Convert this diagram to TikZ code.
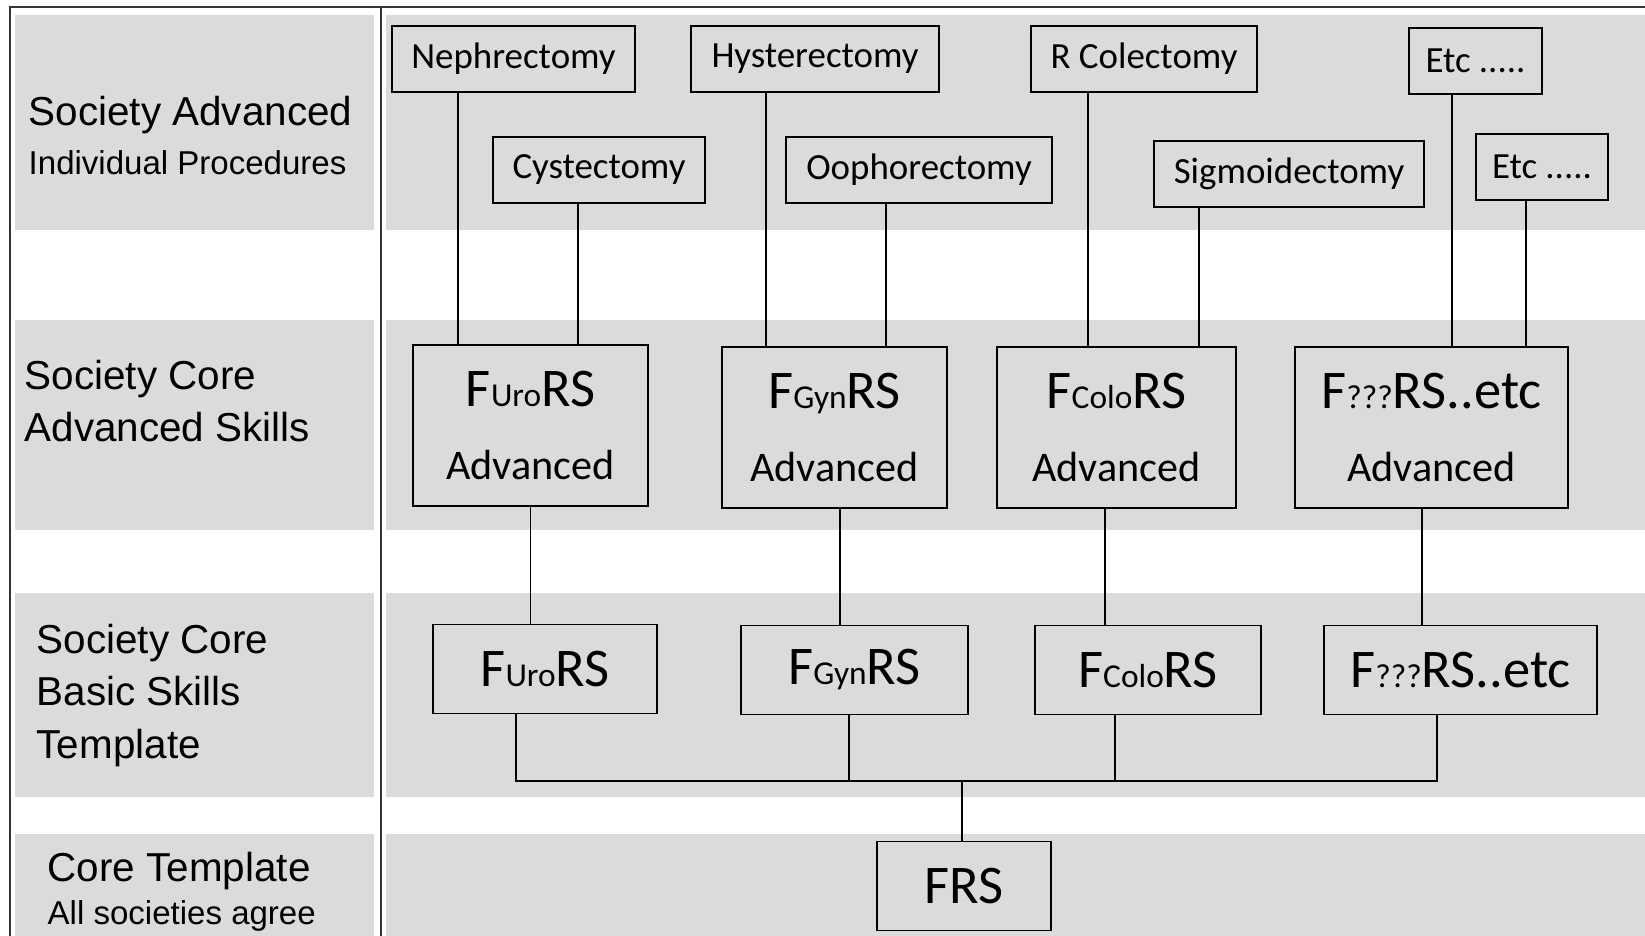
\documentclass[tikz,border=0pt]{standalone}
\usepackage{fontspec}
\setmainfont{Liberation Sans}
\newfontfamily\calfont{Carlito}
\newcommand{\bigf}{\fontsize{15.5}{21}\selectfont}
\newcommand{\smlf}{\fontsize{9.5}{21}\selectfont}
\newcommand{\frsname}[1]{{\bigf F}{\smlf #1}{\bigf RS}}

\begin{document}
\begin{tikzpicture}[
  proc/.style={draw, line width=0.5pt, minimum height=0.66cm, inner sep=0pt, font=\calfont\fontsize{10.5}{12}\selectfont},
  advbox/.style={draw, line width=0.5pt, minimum height=1.61cm, inner sep=0pt, align=center, font=\calfont\fontsize{12}{21}\selectfont},
  basicbox/.style={draw, line width=0.5pt, minimum height=0.89cm, inner sep=0pt, font=\calfont},
  link/.style={line width=0.45pt},
  rowlabel/.style={anchor=west, align=left, inner sep=0pt, font=\fontsize{11.5}{15}\selectfont},
  sublabel/.style={anchor=west, inner sep=0pt, font=\fontsize{9.4}{11}\selectfont}
]
  \useasboundingbox (0,0) rectangle (16.45,9.36);

  %bands
  \foreach \ya/\yb in {9.21/7.06, 6.16/4.06, 3.43/1.39, 1.02/0}{
    \fill[black!14] (0.15,\yb) rectangle (3.74,\ya);
    \fill[black!14] (3.86,\yb) rectangle (16.45,\ya);
  }

  %frame
  \draw[line width=0.8pt, black!80] (16.45,9.29) -- (0.10,9.29) -- (0.10,0);
  \draw[line width=0.8pt, black!80] (3.81,9.29) -- (3.81,0);

  %left labels
  \node[rowlabel] (labA) at (0.28,8.21) {Society Advanced};
  \node[sublabel] (labAs) at (0.28,7.73) {Individual Procedures};
  \node[rowlabel] (labB) at (0.24,5.35) {Society Core\\Advanced Skills};
  \node[rowlabel] (labC) at (0.36,2.405) {Society Core\\Basic Skills\\Template};
  \node[rowlabel] (labD) at (0.47,0.65) {Core Template};
  \node[sublabel] (labDs) at (0.47,0.20) {All societies agree};

  %procedures
  \node[proc, minimum width=2.43cm] (neph) at (5.135,8.77) {Nephrectomy};
  \node[proc, minimum width=2.48cm] (hyst) at (8.15,8.77) {Hysterectomy};
  \node[proc, minimum width=2.26cm] (rcol) at (11.44,8.77) {R Colectomy};
  \node[proc, minimum width=1.33cm] (etcA) at (14.755,8.75) {Etc .....};
  \node[proc, minimum width=2.12cm] (cyst) at (5.99,7.66) {Cystectomy};
  \node[proc, minimum width=2.66cm] (ooph) at (9.19,7.66) {Oophorectomy};
  \node[proc, minimum width=2.70cm] (sigm) at (12.89,7.62) {Sigmoidectomy};
  \node[proc, minimum width=1.32cm] (etcB) at (15.42,7.69) {Etc .....};

  %advanced
  \node[advbox, minimum width=2.35cm] (uroA) at (5.305,5.105) {\frsname{Uro}\\Advanced};
  \node[advbox, minimum width=2.25cm] (gynA) at (8.345,5.085) {\frsname{Gyn}\\Advanced};
  \node[advbox, minimum width=2.39cm] (coloA) at (11.165,5.085) {\frsname{Colo}\\Advanced};
  \node[advbox, minimum width=2.73cm] (xA) at (14.315,5.085) {{\bigf F}{\smlf ???}{\bigf RS..etc}\\Advanced};

  %basic
  \node[basicbox, minimum width=2.24cm] (uroB) at (5.45,2.67) {\frsname{Uro}};
  \node[basicbox, minimum width=2.27cm] (gynB) at (8.545,2.66) {\frsname{Gyn}};
  \node[basicbox, minimum width=2.26cm] (coloB) at (11.48,2.66) {\frsname{Colo}};
  \node[basicbox, minimum width=2.73cm] (xB) at (14.605,2.66) {{\bigf F}{\smlf ???}{\bigf RS..etc}};

  %core
  \node[basicbox, minimum width=1.74cm] (frs) at (9.64,0.50) {\bigf FRS};

  %procedures to advanced
  \draw[link] ([xshift=-5.55mm]neph.south) -- ([xshift=-5.55mm]neph.south |- uroA.north);
  \draw[link] ([xshift=-2.1mm]cyst.south) -- ([xshift=-2.1mm]cyst.south |- uroA.north);
  \draw[link] ([xshift=-4.9mm]hyst.south) -- ([xshift=-4.9mm]hyst.south |- gynA.north);
  \draw[link] ([xshift=-3.3mm]ooph.south) -- ([xshift=-3.3mm]ooph.south |- gynA.north);
  \draw[link] ([xshift=-5.6mm]rcol.south) -- ([xshift=-5.6mm]rcol.south |- coloA.north);
  \draw[link] ([xshift=-9mm]sigm.south) -- ([xshift=-9mm]sigm.south |- coloA.north);
  \draw[link] ([xshift=-2.35mm]etcA.south) -- ([xshift=-2.35mm]etcA.south |- xA.north);
  \draw[link] ([xshift=-1.6mm]etcB.south) -- ([xshift=-1.6mm]etcB.south |- xA.north);

  %advanced to basic
  \draw[link] (uroA.south) -- (uroA.south |- uroB.north);
  \draw[link] ([xshift=0.55mm]gynA.south) -- ([xshift=0.55mm]gynA.south |- gynB.north);
  \draw[link] ([xshift=-1.15mm]coloA.south) -- ([xshift=-1.15mm]coloA.south |- coloB.north);
  \draw[link] ([xshift=-0.95mm]xA.south) -- ([xshift=-0.95mm]xA.south |- xB.north);

  %basic to core
  \coordinate (bus) at (9.62,1.55);
  \draw[link] ([xshift=-2.9mm]uroB.south) |- (bus);
  \draw[link] ([xshift=-2.35mm]xB.south) |- (bus);
  \draw[link] ([xshift=-0.55mm]gynB.south) -- ([xshift=-0.55mm]gynB.south |- bus);
  \draw[link] ([xshift=-3.3mm]coloB.south) -- ([xshift=-3.3mm]coloB.south |- bus);
  \draw[link] (bus) -- (bus |- frs.north);

\end{tikzpicture}
\end{document}
